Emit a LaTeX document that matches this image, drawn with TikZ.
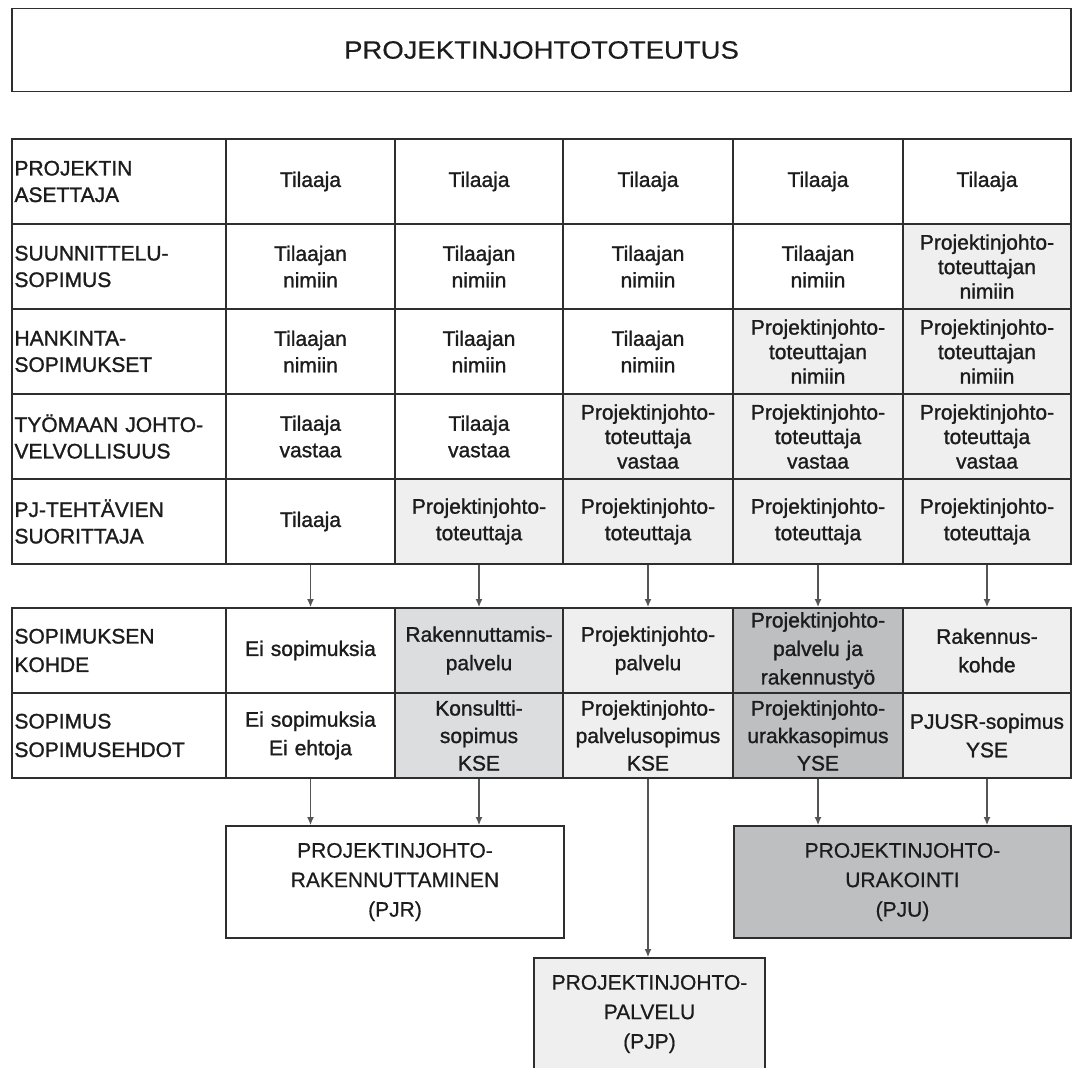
\documentclass[tikz,border=0pt]{standalone}
\usepackage{fontspec}
\setmainfont{Liberation Sans}
\newfontfamily\cellfont{Liberation Sans}[UprightFeatures={FakeBold=1.2}]
\newfontfamily\boxfont{Liberation Sans}[UprightFeatures={FakeBold=0.6}]
\newfontfamily\titlefont{Liberation Sans}[UprightFeatures={FakeStretch=1.1,FakeBold=0.4}]
\usetikzlibrary{arrows.meta}
\definecolor{lightc}{HTML}{EEEFEE}
\definecolor{midc}{HTML}{DCDDDF}
\definecolor{darkc}{HTML}{BEBFC1}
\definecolor{linec}{HTML}{2E2E2E}
\definecolor{arrc}{HTML}{555555}
\definecolor{txtc}{HTML}{1C1C1C}
\begin{document}
\begin{tikzpicture}[x=1pt,y=-1pt,
  cell/.style={draw=linec, line width=1.8pt, inner sep=0pt, minimum height=85pt, text=txtc,
               font=\cellfont\fontsize{21}{26.5}\selectfont},
  tri/.style={font=\cellfont\fontsize{21}{24.5}\selectfont},
  low/.style={font=\cellfont\fontsize{21}{28.5}\selectfont},
  three/.style={font=\cellfont\fontsize{21}{27.5}\selectfont},
  cA/.style={minimum width=214pt, text width=209pt, align=left},
  cB/.style={minimum width=169pt, text width=165pt, align=center},
  cC/.style={minimum width=168pt, text width=165pt, align=center},
  cD/.style={minimum width=170pt, text width=165pt, align=center},
  cE/.style={minimum width=170pt, text width=165pt, align=center},
  cF/.style={minimum width=168pt, text width=165pt, align=center},
  lt/.style={fill=lightc}, md/.style={fill=midc}, dk/.style={fill=darkc},
  bigbox/.style={draw=linec, line width=1.8pt, inner sep=0pt, minimum height=112pt, align=center,
                 text=txtc, font=\boxfont\fontsize{21}{29.5}\selectfont},
  arr/.style={draw=arrc, line width=1.4pt, -{Latex[length=8pt,width=7pt]}}
]
\useasboundingbox (0,0) rectangle (1072,1068);
\fill[white] (0,0) rectangle (1072,1068);

% title
\node[draw=linec, line width=1.8pt, minimum width=1059pt, minimum height=83pt, inner sep=0pt, text=txtc]
  (title) at (541.5,50) {\titlefont\fontsize{25}{30}\selectfont PROJEKTINJOHTOTOTEUTUS};

% upper table: row 1
\node[cell,cA] (r1a) at (119,181.5) {PROJEKTIN\\ASETTAJA};
\node[cell,cB] (r1b) at (310.5,181.5) {Tilaaja};
\node[cell,cC] (r1c) at (479,181.5) {Tilaaja};
\node[cell,cD] (r1d) at (648,181.5) {Tilaaja};
\node[cell,cE] (r1e) at (818,181.5) {Tilaaja};
\node[cell,cF] (r1f) at (987,181.5) {Tilaaja};
% row 2
\node[cell,cA] (r2a) at (119,266.5) {SUUNNITTELU-\\SOPIMUS};
\node[cell,cB] (r2b) at (310.5,266.5) {Tilaajan\\nimiin};
\node[cell,cC] (r2c) at (479,266.5) {Tilaajan\\nimiin};
\node[cell,cD] (r2d) at (648,266.5) {Tilaajan\\nimiin};
\node[cell,cE] (r2e) at (818,266.5) {Tilaajan\\nimiin};
\node[cell,cF,lt,tri] (r2f) at (987,266.5) {Projektinjohto-\\toteuttajan\\nimiin};
% row 3
\node[cell,cA] (r3a) at (119,351.5) {HANKINTA-\\SOPIMUKSET};
\node[cell,cB] (r3b) at (310.5,351.5) {Tilaajan\\nimiin};
\node[cell,cC] (r3c) at (479,351.5) {Tilaajan\\nimiin};
\node[cell,cD] (r3d) at (648,351.5) {Tilaajan\\nimiin};
\node[cell,cE,lt,tri] (r3e) at (818,351.5) {Projektinjohto-\\toteuttajan\\nimiin};
\node[cell,cF,lt,tri] (r3f) at (987,351.5) {Projektinjohto-\\toteuttajan\\nimiin};
% row 4
\node[cell,cA] (r4a) at (119,436.5) {TYÖMAAN JOHTO-\\VELVOLLISUUS};
\node[cell,cB] (r4b) at (310.5,436.5) {Tilaaja\\vastaa};
\node[cell,cC] (r4c) at (479,436.5) {Tilaaja\\vastaa};
\node[cell,cD,lt,tri] (r4d) at (648,436.5) {Projektinjohto-\\toteuttaja\\vastaa};
\node[cell,cE,lt,tri] (r4e) at (818,436.5) {Projektinjohto-\\toteuttaja\\vastaa};
\node[cell,cF,lt,tri] (r4f) at (987,436.5) {Projektinjohto-\\toteuttaja\\vastaa};
% row 5
\node[cell,cA] (r5a) at (119,521.5) {PJ-TEHTÄVIEN\\SUORITTAJA};
\node[cell,cB] (r5b) at (310.5,521.5) {Tilaaja};
\node[cell,cC,lt] (r5c) at (479,521.5) {Projektinjohto-\\toteuttaja};
\node[cell,cD,lt] (r5d) at (648,521.5) {Projektinjohto-\\toteuttaja};
\node[cell,cE,lt] (r5e) at (818,521.5) {Projektinjohto-\\toteuttaja};
\node[cell,cF,lt] (r5f) at (987,521.5) {Projektinjohto-\\toteuttaja};

% lower table: row 1
\node[cell,cA,low] (k1a) at (119,650.5) {SOPIMUKSEN\\KOHDE};
\node[cell,cB,low] (k1b) at (310.5,650.5) {Ei sopimuksia};
\node[cell,cC,low,md] (k1c) at (479,650.5) {Rakennuttamis-\\palvelu};
\node[cell,cD,low,lt] (k1d) at (648,650.5) {Projektinjohto-\\palvelu};
\node[cell,cE,low,dk] (k1e) at (818,650.5) {Projektinjohto-\\palvelu ja\\rakennustyö};
\node[cell,cF,low,lt] (k1f) at (987,650.5) {Rakennus-\\kohde};
% lower table: row 2
\node[cell,cA,low] (k2a) at (119,735.5) {SOPIMUS\\SOPIMUSEHDOT};
\node[cell,cB,low] (k2b) at (310.5,735.5) {Ei sopimuksia\\Ei ehtoja};
\node[cell,cC,md,three] (k2c) at (479,735.5) {Konsultti-\\sopimus\\KSE};
\node[cell,cD,lt,three] (k2d) at (648,735.5) {Projektinjohto-\\palvelusopimus\\KSE};
\node[cell,cE,dk,three] (k2e) at (818,735.5) {Projektinjohto-\\urakkasopimus\\YSE};
\node[cell,cF,low,lt] (k2f) at (987,735.5) {PJUSR-sopimus\\YSE};

% result boxes
\node[bigbox, minimum width=338pt] (pjr) at (395,882) {PROJEKTINJOHTO-\\RAKENNUTTAMINEN\\(PJR)};
\node[bigbox, minimum width=337pt, fill=darkc] (pju) at (902.5,882) {PROJEKTINJOHTO-\\URAKOINTI\\(PJU)};
\node[bigbox, minimum width=231pt, fill=lightc] (pjp) at (649.5,1014) {PROJEKTINJOHTO-\\PALVELU\\(PJP)};

% arrows upper -> lower
\foreach \u/\l in {r5b/k1b, r5c/k1c, r5d/k1d, r5e/k1e, r5f/k1f}
  \draw[arr] (\u.south) -- (\l.north);

% arrows lower -> result boxes
\draw[arr] (k2b.south) -- (k2b.south |- pjr.north);
\draw[arr] (k2c.south) -- (k2c.south |- pjr.north);
\draw[arr] (k2d.south) -- (k2d.south |- pjp.north);
\draw[arr] (k2e.south) -- (k2e.south |- pju.north);
\draw[arr] (k2f.south) -- (k2f.south |- pju.north);
\end{tikzpicture}
\end{document}
